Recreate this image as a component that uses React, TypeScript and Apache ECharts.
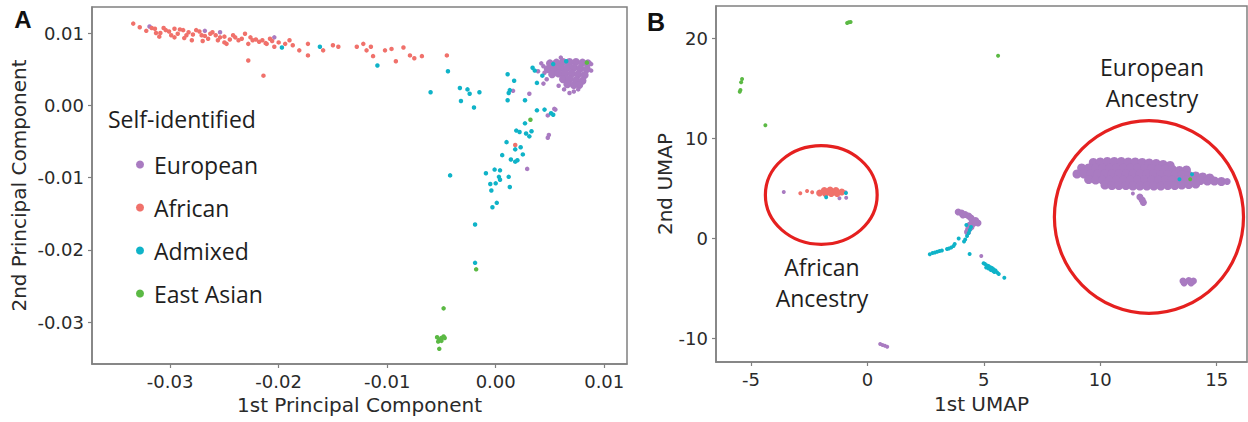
import React, { useEffect, useRef } from "react";
import * as echarts from "echarts";

// ---------- Panel A : PCA ----------
const pcaXTicks = [-0.03, -0.02, -0.01, 0, 0.01];
const pcaYTicks = [-0.03, -0.02, -0.01, 0, 0.01];

const pcaAfrican = [
  [-0.0334, 0.0113], [-0.0328, 0.0108], [-0.0322, 0.0103], [-0.0317, 0.0107], [-0.0314, 0.0106],
  [-0.0313, 0.01], [-0.031, 0.0095], [-0.0309, 0.01], [-0.0306, 0.0107], [-0.0304, 0.0104],
  [-0.0301, 0.0102], [-0.0299, 0.0097], [-0.0296, 0.0106], [-0.0296, 0.0094], [-0.0293, 0.0099],
  [-0.0291, 0.0105], [-0.0288, 0.0104], [-0.0287, 0.0093], [-0.0285, 0.0097], [-0.0283, 0.0101],
  [-0.028, 0.009], [-0.0279, 0.0098], [-0.0276, 0.0104], [-0.0273, 0.0102], [-0.0271, 0.0097],
  [-0.027, 0.0089], [-0.0268, 0.0096], [-0.0265, 0.0092], [-0.0263, 0.0099], [-0.0261, 0.0101],
  [-0.0258, 0.0097], [-0.0256, 0.009], [-0.0254, 0.0094], [-0.025, 0.0095], [-0.025, 0.0087],
  [-0.0248, 0.0085], [-0.0245, 0.0091], [-0.0242, 0.0097], [-0.024, 0.0094], [-0.0237, 0.009],
  [-0.0234, 0.0092], [-0.0231, 0.0099], [-0.0228, 0.0085], [-0.0228, 0.0062], [-0.0226, 0.0094],
  [-0.0224, 0.009], [-0.0221, 0.0091], [-0.0218, 0.0088], [-0.0215, 0.009], [-0.0214, 0.0041],
  [-0.0212, 0.0086], [-0.0211, 0.0085], [-0.0208, 0.0092], [-0.0206, 0.0089], [-0.0204, 0.0081],
  [-0.02, 0.0087], [-0.0194, 0.0085], [-0.019, 0.009], [-0.0187, 0.0083], [-0.0181, 0.0076],
  [-0.0173, 0.0085], [-0.0173, 0.0069], [-0.0159, 0.0076], [-0.015, 0.0083], [-0.0145, 0.0081],
  [-0.0128, 0.0081], [-0.0122, 0.0085], [-0.0119, 0.0076], [-0.0115, 0.0081], [-0.0113, 0.0068],
  [-0.0102, 0.0076], [-0.0096, 0.0078], [-0.0092, 0.0061], [-0.0085, 0.008], [-0.0079, 0.0069],
  [-0.0075, 0.0065], [-0.0068, 0.0068], [-0.0045, 0.0069], [0.0018, -0.0055],
];

const pcaEuropean = [
  [-0.0319, 0.0109], [-0.0268, 0.0103], [-0.0254, 0.0101], [-0.0204, 0.0094], [0.0016, 0.002],
  [0.0031, 0.0016], [0.0039, 0.0047], [0.0055, -0.0006], [0.0048, -0.0014], [0.0048, -0.0045],
  [0.0049, -0.0041], [0.0029, -0.0088], [0.0054, -0.0005], [0.0045, 0.0045], [0.0044, 0.0054],
  [0.0047, 0.0036], [0.0058, 0.0027], [0.0063, 0.0022], [0.0068, 0.0017], [0.0072, 0.0019],
  [0.0076, 0.0022], [0.006, 0.0066], [0.0088, 0.0057], [0.0088, 0.0048], [0.0042, 0.0058],
  [0.0044, 0.003],
];

const pcaEuropeanCore = [
  [0.005, 0.0058], [0.0056, 0.0059], [0.0062, 0.006], [0.0068, 0.006], [0.0074, 0.006], [0.008, 0.0059], [0.0085, 0.0058],
  [0.0048, 0.005], [0.0054, 0.0051], [0.006, 0.0052], [0.0066, 0.0052], [0.0072, 0.0052], [0.0078, 0.0051], [0.0084, 0.005],
  [0.0052, 0.0043], [0.0058, 0.0044], [0.0064, 0.0044], [0.007, 0.0044], [0.0076, 0.0043], [0.0082, 0.0042],
  [0.0062, 0.0036], [0.0068, 0.0036], [0.0074, 0.0035], [0.008, 0.0034],
  [0.0066, 0.0029], [0.0072, 0.0028], [0.0077, 0.0028],
];

const pcaAdmixed = [
  [-0.0197, 0.008], [-0.0162, 0.0081], [-0.0109, 0.0055], [-0.0044, 0.0047], [-0.006, 0.0018],
  [-0.0033, 0.0024], [-0.0032, 0.0006], [-0.0026, 0.0022], [-0.0024, 0.0016], [-0.0015, 0.0018],
  [-0.002, -0.0003], [0.0011, 0.0043], [0.0017, 0.0034], [0.0013, 0.0021], [0.0012, 0.0017],
  [0.0011, 0.0007], [0.0027, 0.0007], [0.0038, 0.0031], [0.0034, 0.0052], [0.0036, 0.0048],
  [0.0043, 0.0041], [0.0053, 0.0057], [0.0065, 0.0061], [0.0038, -0.0007], [0.0045, -0.0006],
  [0.0051, -0.0011], [0.0053, -0.0013], [0.0027, -0.0025], [0.0019, -0.0035], [0.0022, -0.0037],
  [0.0028, -0.0039], [0.0033, -0.0036], [0.0031, -0.0043], [0.001, -0.0051], [0.0018, -0.0061],
  [0.0023, -0.0058], [0.0025, -0.0068], [0.0006, -0.0069], [0.0014, -0.0075], [0.0018, -0.0078],
  [0.002, -0.0076], [-0.0001, -0.0089], [0.0004, -0.009], [-0.0009, -0.0094], [0.0003, -0.0099],
  [0.0004, -0.0103], [0.0012, -0.0099], [-0.0005, -0.0109], [0.0, -0.0108], [0.0013, -0.0113],
  [-0.0004, -0.0118], [-0.0042, -0.0097], [0.0001, -0.0135], [-0.0003, -0.0141], [-0.0019, -0.0165],
  [-0.0019, -0.0218],
];

const pcaEastAsian = [
  [0.0084, 0.0059], [0.0032, -0.002], [-0.0018, -0.0227], [-0.0048, -0.0281], [-0.0054, -0.0321],
  [-0.0052, -0.0324], [-0.005, -0.0322], [-0.0048, -0.032], [-0.0047, -0.0322], [-0.0053, -0.0327],
  [-0.005, -0.0326], [-0.0052, -0.0337],
];

// ---------- Panel B : UMAP ----------
const umapXTicks = [-5, 0, 5, 10, 15];
const umapYTicks = [-10, 0, 10, 20];

const umapEuropeanCore = [
  [9.7, 7.55], [10.0, 7.6], [10.3, 7.65], [10.6, 7.65], [10.9, 7.65], [11.2, 7.6], [11.5, 7.6], [11.8, 7.55],
  [12.1, 7.5], [12.4, 7.45], [12.7, 7.35], [13.0, 7.25],
  [9.2, 7.0], [9.5, 7.0], [9.8, 7.0], [10.1, 7.0], [10.4, 7.0], [10.7, 7.0], [11.0, 7.0], [11.3, 7.0],
  [11.6, 7.0], [11.9, 6.95], [12.2, 6.95], [12.5, 6.9], [12.8, 6.9], [13.1, 6.85], [13.4, 6.75], [13.7, 6.8],
  [9.0, 6.4], [9.3, 6.4], [9.6, 6.4], [9.9, 6.4], [10.2, 6.4], [10.5, 6.4], [10.8, 6.4], [11.1, 6.4],
  [11.4, 6.4], [11.7, 6.4], [12.0, 6.4], [12.3, 6.4], [12.6, 6.35], [12.9, 6.35], [13.2, 6.3], [13.5, 6.3],
  [13.8, 6.25], [14.1, 6.2], [14.4, 6.1], [14.7, 6.0],
  [9.5, 5.85], [9.8, 5.8], [10.1, 5.8], [10.4, 5.8], [10.7, 5.8], [11.0, 5.8], [11.3, 5.8], [11.6, 5.8],
  [11.9, 5.8], [12.2, 5.8], [12.5, 5.8], [12.8, 5.8], [13.1, 5.8], [13.4, 5.8], [13.7, 5.8], [14.0, 5.75],
  [14.3, 5.75], [14.6, 5.7], [14.9, 5.7], [15.2, 5.65],
  [10.2, 5.3], [10.5, 5.25], [10.8, 5.25], [11.1, 5.25], [11.4, 5.2], [11.7, 5.2], [12.0, 5.2], [12.3, 5.2],
  [12.6, 5.2], [12.9, 5.25], [13.2, 5.25], [13.5, 5.3], [13.8, 5.35], [14.1, 5.4],
];

const umapEuropeanSmallClusters = [
  [15.45, 5.65], [11.7, 4.1], [11.8, 3.8], [11.85, 3.55],
  [13.55, -4.3], [13.8, -4.25], [14.0, -4.3], [13.6, -4.5], [13.9, -4.5],
  [3.9, 2.6], [4.05, 2.5], [4.2, 2.35], [4.35, 2.2], [4.45, 2.0], [4.5, 1.8], [4.6, 1.6], [4.75, 1.5],
  [4.55, 1.45], [4.4, 1.3], [4.45, 1.1], [4.35, 0.9], [4.3, 0.6], [4.65, 1.75], [4.1, 2.3],
];

const umapEuropean = [
  [-3.59, 4.6], [-1.2, 3.97], [-0.91, 4.03], [-0.94, 4.57], [0.55, -10.6], [0.65, -10.7],
  [0.75, -10.78], [0.85, -10.88], [4.89, -1.8], [11.4, 4.45],
];

const umapAfricanCore = [
  [-2.05, 4.5], [-1.85, 4.75], [-1.6, 4.8], [-1.35, 4.75], [-1.1, 4.6], [-1.8, 4.45], [-1.55, 4.45], [-1.3, 4.45],
];

const umapAfrican = [[-2.88, 4.47], [-2.59, 4.7], [-2.37, 4.57]];

const umapAdmixed = [
  [-1.77, 4.07], [-0.92, 4.5], [13.4, 5.87], [13.94, 6.37], [4.45, 1.1], [4.4, 0.8], [4.35, 0.5],
  [4.28, 0.2], [4.2, -0.15], [4.15, -0.35], [4.25, 1.3], [3.92, -0.05], [3.75, -0.6], [3.7, -0.8],
  [3.6, -0.95], [3.5, -1.05], [3.42, -1.1], [3.2, -1.25], [3.1, -1.3], [3.0, -1.38], [2.9, -1.45],
  [2.8, -1.5], [2.68, -1.63], [4.39, -1.6], [4.99, -2.53], [5.05, -2.6], [5.14, -2.75], [5.2, -2.8],
  [5.28, -2.93], [5.35, -3.0], [5.42, -3.13], [5.5, -3.25], [5.57, -3.45], [5.64, -3.6], [5.88, -3.97],
  [5.1, -2.95], [5.3, -3.2], [5.45, -3.4], [5.2, -3.05], [5.4, -3.3],
];

const umapEastAsian = [
  [-0.87, 21.5], [-0.8, 21.57], [-0.72, 21.6], [-5.38, 15.9], [-5.42, 15.57], [-5.45, 14.8],
  [-5.48, 14.63], [-4.38, 11.27], [5.61, 18.23], [13.86, 5.87],
];

// circles: [centerX, centerY, radiusX, radiusY] in UMAP units
const ancestryCircles = [
  [-1.98, 4.3, 2.4, 4.93],
  [12.09, 2.1, 4.06, 9.63],
];

const groups = ["European", "African", "Admixed", "East Asian"];
const colors: Record<string, string> = {
  European: "#a97bc1",
  African: "#f0716b",
  Admixed: "#0fb3c8",
  "East Asian": "#5bb944",
};

const TICK_FONT = "DejaVu Sans";
const TEXT_FONT = "Open Sans";
const AXIS_COLOR = "#808080";

function axisCommon(ticks: number[], fmt: (v: number) => string) {
  return {
    type: "value" as const,
    splitLine: { show: false },
    axisLine: { show: true, onZero: false, lineStyle: { color: AXIS_COLOR, width: 1.5 } },
    axisTick: { show: true, length: 4, customValues: ticks, lineStyle: { color: AXIS_COLOR, width: 1.2 } },
    axisLabel: {
      customValues: ticks,
      formatter: fmt,
      fontFamily: TICK_FONT,
      fontSize: 18,
      color: "#2a2a2a",
      margin: 8,
    },
    nameLocation: "middle" as const,
    nameTextStyle: { fontFamily: TICK_FONT, fontSize: 20, color: "#2a2a2a" },
  };
}

function scatter(name: string, data: number[][], xi: number, size: number, z = 2) {
  return {
    type: "scatter",
    name,
    data,
    xAxisIndex: xi,
    yAxisIndex: xi,
    symbolSize: size,
    itemStyle: { color: colors[name], opacity: 1 },
    z,
    silent: true,
  };
}

export default function App() {
  const ref = useRef<HTMLDivElement>(null);
  useEffect(() => {
    if (!ref.current) return;
    const chart = echarts.init(ref.current, null, { renderer: "svg" });
    const option: any = {
      animation: false,
      backgroundColor: "#ffffff",
      grid: [
        { left: 92, top: 7, width: 535, height: 357, show: true, borderColor: AXIS_COLOR, borderWidth: 1.5, backgroundColor: "transparent" },
        { left: 716, top: 6, width: 531, height: 356, show: true, borderColor: AXIS_COLOR, borderWidth: 1.5, backgroundColor: "transparent" },
      ],
      xAxis: [
        { ...axisCommon(pcaXTicks, (v: number) => v.toFixed(2)), gridIndex: 0, min: -0.0372, max: 0.0121, name: "1st Principal Component", nameGap: 30 },
        { ...axisCommon(umapXTicks, (v: number) => String(v)), gridIndex: 1, min: -6.5, max: 16.3, name: "1st UMAP", nameGap: 32 },
      ],
      yAxis: [
        { ...axisCommon(pcaYTicks, (v: number) => v.toFixed(2)), gridIndex: 0, min: -0.0358, max: 0.0136, name: "2nd Principal Component", nameGap: 63 },
        { ...axisCommon(umapYTicks, (v: number) => String(v)), gridIndex: 1, min: -12.4, max: 23.2, name: "2nd UMAP", nameGap: 41 },
      ],
      legend: {
        data: groups,
        orient: "vertical",
        left: 131,
        top: 148,
        itemWidth: 18,
        itemHeight: 8,
        itemGap: 20,
        icon: "circle",
        selectedMode: false,
        textStyle: { fontFamily: TEXT_FONT, fontSize: 23, color: "#1e1e1e" },
      },
      graphic: [
        { type: "text", x: 23, y: 19, style: { text: "A", fontSize: 24, fontWeight: "bold", fontFamily: "Liberation Sans", fill: "#111", align: "center", verticalAlign: "middle" } },
        { type: "text", x: 656, y: 22, style: { text: "B", fontSize: 25, fontWeight: "bold", fontFamily: "Liberation Sans", fill: "#111", align: "center", verticalAlign: "middle" } },
        { type: "text", x: 108, y: 119, style: { text: "Self-identified", fontSize: 23, fontFamily: TEXT_FONT, fill: "#1e1e1e", align: "left", verticalAlign: "middle" } },
        { type: "text", x: 1152, y: 82, style: { text: "European\nAncestry", fontSize: 23, lineHeight: 31, fontFamily: TEXT_FONT, fill: "#1e1e1e", align: "center", verticalAlign: "middle" } },
        { type: "text", x: 822, y: 282, style: { text: "African\nAncestry", fontSize: 23, lineHeight: 31, fontFamily: TEXT_FONT, fill: "#1e1e1e", align: "center", verticalAlign: "middle" } },
      ],
      series: [
        // Panel A
        scatter("European", pcaEuropeanCore, 0, 8, 2),
        scatter("European", pcaEuropean, 0, 4.5, 3),
        scatter("African", pcaAfrican, 0, 4.5, 3),
        scatter("Admixed", pcaAdmixed, 0, 4.5, 4),
        scatter("East Asian", pcaEastAsian, 0, 4.5, 4),
        // Panel B
        scatter("European", umapEuropeanCore, 1, 9, 2),
        scatter("European", umapEuropeanSmallClusters, 1, 7, 2),
        scatter("European", umapEuropean, 1, 4, 3),
        scatter("African", umapAfricanCore, 1, 7, 3),
        scatter("African", umapAfrican, 1, 4, 3),
        scatter("Admixed", umapAdmixed, 1, 4, 4),
        scatter("East Asian", umapEastAsian, 1, 4, 4),
        {
          type: "custom",
          name: "circles",
          xAxisIndex: 1,
          yAxisIndex: 1,
          data: ancestryCircles,
          clip: false,
          silent: true,
          z: 5,
          renderItem: (params: any, api: any) => {
            const c = api.coord([api.value(0), api.value(1)]);
            const s = api.size([api.value(2), api.value(3)]);
            const rx = s[0];
            const ry = s[1];
            const d = `M ${c[0] - rx} ${c[1]} A ${rx} ${ry} 0 1 0 ${c[0] + rx} ${c[1]} A ${rx} ${ry} 0 1 0 ${c[0] - rx} ${c[1]} Z`;
            return {
              type: "path",
              shape: { pathData: d },
              style: { fill: "none", stroke: "#e5201f", lineWidth: 3.2 },
            };
          },
        },
      ],
    };
    chart.setOption(option);
    return () => chart.dispose();
  }, []);
  return (
    <div
      ref={ref}
      style={{ position: "absolute", left: 0, top: 0, width: 1248, height: 422, background: "#fff" }}
    />
  );
}
